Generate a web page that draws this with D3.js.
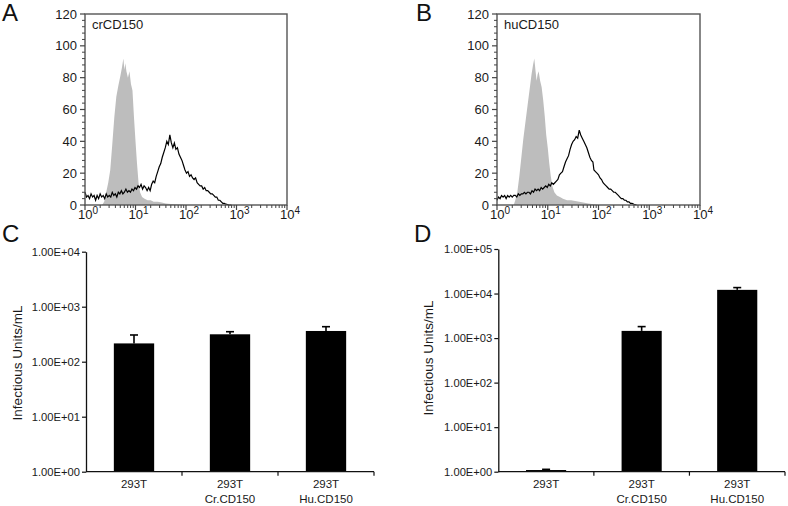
<!DOCTYPE html>
<html><head><meta charset="utf-8">
<script src="https://cdn.jsdelivr.net/npm/d3@7"></script>
<style>
html,body{margin:0;padding:0;background:#fff;}
svg{display:block;font-family:"Liberation Sans",Arial,sans-serif;}
</style></head>
<body><svg id="fig" width="788" height="506"></svg>
<script>
// ---------- DATA ----------
// Flow histograms: [log10 fluorescence, count]
const crIsotype = [[0.34,0],[0.38,2],[0.42,8],[0.46,14],[0.50,22],[0.54,38],[0.58,55],[0.62,68],[0.66,75],[0.70,81],[0.73,86],[0.76,92],[0.78,85],[0.80,89],[0.82,84],[0.85,80],[0.88,84],[0.91,76],[0.94,72],[0.97,55],[1.00,40],[1.03,26],[1.06,14],[1.09,8],[1.13,5],[1.18,4],[1.24,3],[1.30,3],[1.36,2],[1.44,2],[1.52,1.5],[1.60,1],[1.70,0.7],[1.80,0.5],[1.90,0.3],[2.00,0]];
const crStained = [[0.00,8],[0.03,5],[0.06,6],[0.09,4],[0.12,7],[0.15,5],[0.18,6],[0.21,3],[0.24,6],[0.27,4],[0.30,7],[0.33,5],[0.36,6],[0.39,4],[0.42,7],[0.45,5],[0.48,6],[0.51,5],[0.54,8],[0.57,6],[0.60,7],[0.63,5],[0.66,8],[0.69,7],[0.72,9],[0.75,7],[0.78,8],[0.81,10],[0.84,8],[0.87,9],[0.90,8],[0.93,10],[0.96,9],[0.99,11],[1.02,10],[1.05,12],[1.08,11],[1.11,13],[1.14,10],[1.17,12],[1.20,11],[1.23,9],[1.26,11],[1.29,9],[1.32,13],[1.35,15],[1.38,14],[1.41,18],[1.44,21],[1.47,24],[1.50,26],[1.53,30],[1.56,33],[1.59,36],[1.62,40],[1.65,38],[1.68,44],[1.71,39],[1.74,36],[1.77,39],[1.80,35],[1.83,36],[1.86,32],[1.89,30],[1.92,28],[1.95,25],[1.98,22],[2.01,20],[2.04,21],[2.07,18],[2.10,19],[2.13,17],[2.16,16],[2.19,17],[2.22,14],[2.25,13],[2.28,12],[2.31,12],[2.34,10],[2.37,11],[2.40,9],[2.43,9],[2.46,8],[2.49,7],[2.52,7],[2.55,6],[2.58,5],[2.61,5],[2.64,3],[2.67,3],[2.70,2],[2.73,1],[2.76,1],[2.79,0.5],[2.82,0.3],[2.85,0],[2.90,0]];
const huIsotype = [[0.33,0],[0.36,3],[0.40,8],[0.44,18],[0.48,30],[0.52,42],[0.56,52],[0.60,62],[0.64,72],[0.68,82],[0.71,88],[0.735,92],[0.76,84],[0.78,78],[0.80,82],[0.82,84],[0.85,78],[0.88,74],[0.91,66],[0.94,56],[0.97,44],[1.00,36],[1.03,26],[1.06,18],[1.09,12],[1.13,8],[1.18,6],[1.24,5],[1.30,4],[1.38,3],[1.46,3],[1.54,2.5],[1.62,2],[1.70,1.5],[1.80,1],[1.90,0.5],[2.00,0]];
const huStained = [[0.00,3],[0.03,5],[0.06,4],[0.09,6],[0.12,5],[0.15,6],[0.18,4],[0.21,6],[0.24,5],[0.27,6],[0.30,5],[0.33,6],[0.36,6],[0.39,5],[0.42,7],[0.45,6],[0.48,7],[0.51,7],[0.54,8],[0.57,7],[0.60,8],[0.63,8],[0.66,7],[0.69,9],[0.72,8],[0.75,10],[0.78,9],[0.81,10],[0.84,9],[0.87,11],[0.90,10],[0.93,11],[0.96,12],[0.99,11],[1.02,13],[1.05,12],[1.08,14],[1.11,13],[1.14,14],[1.17,15],[1.20,16],[1.23,19],[1.26,20],[1.29,21],[1.32,24],[1.35,27],[1.38,29],[1.41,31],[1.44,35],[1.47,38],[1.50,40],[1.53,41],[1.56,43],[1.59,42],[1.62,47],[1.65,44],[1.68,42],[1.71,40],[1.74,38],[1.77,36],[1.80,33],[1.83,30],[1.86,28],[1.89,27],[1.91,22],[1.94,21],[1.97,20],[2.00,19],[2.03,17],[2.06,16],[2.09,14],[2.12,13],[2.15,12],[2.18,11],[2.21,10],[2.24,10],[2.27,9],[2.30,8],[2.33,8],[2.36,7],[2.39,6],[2.42,5],[2.45,4],[2.48,4],[2.51,3],[2.54,3],[2.57,2],[2.60,2],[2.63,1],[2.66,1],[2.70,0.5],[2.75,0]];
const histYTicks = [0,20,40,60,80,100,120];
const histXDecades = [0,1,2,3,4];

// Bar charts
const categories = [["293T"],["293T","Cr.CD150"],["293T","Hu.CD150"]];
const titerC = [215, 315, 362];
const sdC = [91, 36, 71];
const titerD = [1.09, 1450, 12100];
const sdD = [0.04, 360, 1500];
const yTicksC = [1,10,100,1000,10000];
const yTicksD = [1,10,100,1000,10000,100000];
const yTitle = "Infectious Units/mL";

// ---------- DRAW ----------
const svg = d3.select("#fig");
const txt = "#1a1a1a";
const FF = "'Liberation Sans',Arial,sans-serif";

function panelLetter(s, x, y){
  svg.append("text").attr("x",x).attr("y",y).attr("font-size",24).attr("fill","#111").text(s);
}

function histogram(cfg){
  const g = svg.append("g");
  const x = d3.scaleLog().domain([1,1e4]).range([cfg.x0,cfg.x1]);
  const y = d3.scaleLinear().domain([0,120]).range([cfg.y1,cfg.y0]);
  const px = d => x(Math.pow(10,d[0]));
  g.append("path").datum(cfg.gray)
    .attr("d", d3.area().x(px).y0(y(0)).y1(d=>y(d[1])))
    .attr("fill","#bdbdbd");
  g.append("path").datum(cfg.black)
    .attr("d", d3.line().x(px).y(d=>y(d[1])))
    .attr("fill","none").attr("stroke","#000").attr("stroke-width",1.2);
  // frame
  g.append("rect").attr("x",cfg.x0).attr("y",cfg.y0)
    .attr("width",cfg.x1-cfg.x0).attr("height",cfg.y1-cfg.y0)
    .attr("fill","none").attr("stroke","#555").attr("stroke-width",1.4);
  // y ticks
  const yMinor = d3.range(0,121,4).filter(v=>v%20!==0);
  g.selectAll(".ym").data(yMinor).join("line")
    .attr("x1",cfg.x0-3).attr("x2",cfg.x0).attr("y1",d=>y(d)).attr("y2",d=>y(d))
    .attr("stroke","#444").attr("stroke-width",1);
  g.selectAll(".yM").data(histYTicks).join("line")
    .attr("x1",cfg.x0-5).attr("x2",cfg.x0).attr("y1",d=>y(d)).attr("y2",d=>y(d))
    .attr("stroke","#444").attr("stroke-width",1.2);
  g.selectAll(".yl").data(histYTicks).join("text")
    .attr("x",cfg.x0-8).attr("y",d=>y(d)+4.5).attr("text-anchor","end")
    .attr("font-size",13).attr("fill",txt).text(d=>d);
  // x ticks
  const xMinor = x.ticks().filter(v=>Math.abs(Math.log10(v)%1)>1e-6);
  g.selectAll(".xm").data(xMinor).join("line")
    .attr("x1",d=>x(d)).attr("x2",d=>x(d)).attr("y1",cfg.y1).attr("y2",cfg.y1+3)
    .attr("stroke","#444").attr("stroke-width",1);
  g.selectAll(".xM").data(histXDecades).join("line")
    .attr("x1",d=>x(Math.pow(10,d))).attr("x2",d=>x(Math.pow(10,d)))
    .attr("y1",cfg.y1).attr("y2",cfg.y1+5)
    .attr("stroke","#444").attr("stroke-width",1.2);
  const xl = g.selectAll(".xl").data(histXDecades).join("text")
    .attr("x",d=>x(Math.pow(10,d))+3).attr("y",cfg.y1+14).attr("text-anchor","middle")
    .attr("font-size",13).attr("fill",txt);
  xl.append("tspan").text("10");
  xl.append("tspan").attr("font-size",10).attr("dy",-5).text(d=>d);
  g.append("text").attr("x",cfg.x0+7).attr("y",cfg.y0+14.5)
    .attr("font-size",13).attr("fill",txt).text(cfg.label);
}

function barChart(cfg){
  const g = svg.append("g");
  const y = d3.scaleLog().domain([1,cfg.ymax]).range([cfg.y1,cfg.y0]);
  const x = d3.scaleBand().domain(d3.range(categories.length)).range([cfg.x0,cfg.x1]).padding(0);
  const bw = x.bandwidth(), barW = bw*0.42;
  g.selectAll(".bar").data(cfg.vals).join("rect")
    .attr("x",(d,i)=>x(i)+bw/2-barW/2).attr("width",barW)
    .attr("y",d=>y(d)).attr("height",d=>Math.max(y(1)-y(d),1.2))
    .attr("fill","#000");
  // error bars (upper)
  g.selectAll(".eb").data(cfg.vals).join("line")
    .attr("x1",(d,i)=>x(i)+bw/2).attr("x2",(d,i)=>x(i)+bw/2)
    .attr("y1",d=>y(d)).attr("y2",(d,i)=>y(d+cfg.sd[i]))
    .attr("stroke","#000").attr("stroke-width",1.6);
  g.selectAll(".ec").data(cfg.vals).join("line")
    .attr("x1",(d,i)=>x(i)+bw/2-4).attr("x2",(d,i)=>x(i)+bw/2+4)
    .attr("y1",(d,i)=>y(d+cfg.sd[i])).attr("y2",(d,i)=>y(d+cfg.sd[i]))
    .attr("stroke","#000").attr("stroke-width",1.6);
  // y axis
  const fmt = d => "1.00E+" + String(Math.round(Math.log10(d))).padStart(2,"0");
  const ya = g.append("g").attr("transform",`translate(${cfg.x0},0)`)
    .call(d3.axisLeft(y).tickValues(cfg.yticks).tickFormat(fmt).tickSize(4).tickSizeOuter(0).tickPadding(2));
  ya.attr("font-family",FF);
  ya.select(".domain").attr("stroke","#111").attr("stroke-width",1.3);
  ya.selectAll(".tick line").attr("stroke","#111").attr("stroke-width",1.2);
  ya.selectAll(".tick text").attr("font-size",11.2).attr("fill",txt);
  // x axis
  g.append("line").attr("x1",cfg.x0).attr("x2",cfg.x1).attr("y1",cfg.y1).attr("y2",cfg.y1)
    .attr("stroke","#111").attr("stroke-width",1.3);
  g.selectAll(".xt").data(d3.range(categories.length)).join("line")
    .attr("x1",i=>x(i)+bw).attr("x2",i=>x(i)+bw).attr("y1",cfg.y1).attr("y2",cfg.y1+4)
    .attr("stroke","#111").attr("stroke-width",1.2);
  const cl = g.selectAll(".cl").data(categories).join("text")
    .attr("text-anchor","middle").attr("font-size",11.5).attr("fill",txt);
  cl.each(function(lines,i){
    const t = d3.select(this);
    lines.forEach((s,k)=>{
      t.append("tspan").attr("x",x(i)+bw/2).attr("y",cfg.y1+16.5+k*15).text(s);
    });
  });
  g.append("text").attr("transform",`translate(${cfg.titleX},${cfg.titleY}) rotate(-90)`)
    .attr("text-anchor","middle").attr("font-size",13.5).attr("fill",txt).text(yTitle);
}

panelLetter("A",2,21);
panelLetter("B",416,21);
panelLetter("C",2,242);
panelLetter("D",414,242);

histogram({x0:85,x1:287,y0:14,y1:205,gray:crIsotype,black:crStained,label:"crCD150"});
histogram({x0:497,x1:700,y0:14,y1:205,gray:huIsotype,black:huStained,label:"huCD150"});

barChart({x0:86,x1:374,y0:251.7,y1:471.7,ymax:1e4,yticks:yTicksC,vals:titerC,sd:sdC,titleX:22,titleY:363});
barChart({x0:498.3,x1:785,y0:249,y1:471.7,ymax:1e5,yticks:yTicksD,vals:titerD,sd:sdD,titleX:433,titleY:358});
</script></body></html>
